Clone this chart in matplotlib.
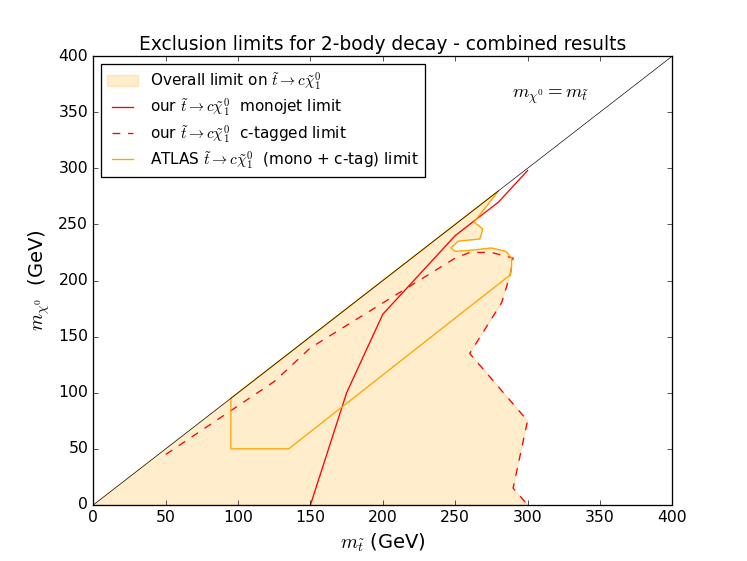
import matplotlib
matplotlib.use('Agg')
import matplotlib.pyplot as plt
import numpy as np

# ---- data (GeV) ----
diag_x = [0, 400]
diag_y = [0, 400]

mono_x = [150, 175, 200, 250, 280, 300]
mono_y = [0, 100, 170, 240, 270, 298]

ctag_x = [50, 125, 150, 200, 250, 260, 275, 290, 288, 282, 260, 300, 290, 300]
ctag_y = [45, 110, 140, 180, 220, 225, 225, 220, 205, 180, 135, 75, 15, 0]

atlas_x = [95, 95, 135, 288, 289, 289, 285, 275, 261, 250, 247, 252, 267, 268, 269, 263, 280, 95]
atlas_y = [95, 50, 50, 205, 212, 220, 226, 229, 227, 226, 229, 235, 237, 241, 246, 252, 280, 95]

overall_x = [0, 280, 263, 269, 268, 267, 252, 247, 250, 261, 275, 285, 289, 288, 282, 260, 300, 290, 300, 0]
overall_y = [0, 280, 252, 246, 241, 237, 235, 229, 226, 227, 229, 226, 220, 205, 180, 135, 75, 15, 0, 0]

ticks = [0, 50, 100, 150, 200, 250, 300, 350, 400]

lab_fill = r'Overall limit on $\tilde{t} \to c\tilde{\chi}_1^0$'
lab_mono = r'our $\tilde{t} \to c\tilde{\chi}_1^0$  monojet limit'
lab_ctag = r'our $\tilde{t} \to c\tilde{\chi}_1^0$  c-tagged limit'
lab_atlas = r'ATLAS $\tilde{t} \to c\tilde{\chi}_1^0$  (mono + c-tag) limit'

plt.style.use('classic')
DPI = 93.375
fig = plt.figure(figsize=(747 / DPI, 561 / DPI), dpi=DPI, facecolor='white')
ax = fig.add_subplot(111)

fill = ax.fill(overall_x, overall_y, color='orange', alpha=0.2, label=lab_fill)
mono, = ax.plot(mono_x, mono_y, 'r-', lw=1.0, label=lab_mono)
ctag, = ax.plot(ctag_x, ctag_y, 'r--', lw=1.0, label=lab_ctag)
atlas, = ax.plot(atlas_x, atlas_y, color='orange', lw=1.0, label=lab_atlas)
ax.plot(diag_x, diag_y, 'k-', lw=0.5)

ax.text(289.5, 363, r'$m_{\chi^0} = m_{\tilde{t}}$', fontsize=14.5, va='center', ha='left')

ax.set_xlim(0, 400)
ax.set_ylim(0, 400)
ax.set_xticks(ticks)
ax.set_yticks(ticks)
ax.tick_params(labelsize=12)
ax.set_xlabel(r'$m_{\tilde{t}}$ (GeV)', fontsize=15)
ax.set_ylabel(r'$m_{\chi^0}$  (GeV)', fontsize=15)
ax.set_title('Exclusion limits for 2-body decay - combined results', fontsize=14.4)

ax.legend([fill[0], mono, ctag, atlas], [lab_fill, lab_mono, lab_ctag, lab_atlas],
          loc='upper left', fontsize=11.8, labelspacing=0.29)

fig.savefig('out.png', dpi=DPI, facecolor='white')
